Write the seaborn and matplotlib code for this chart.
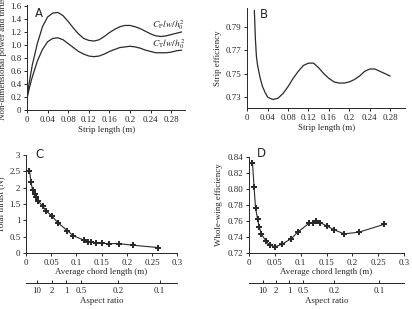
import numpy as np
import matplotlib
matplotlib.use('Agg')
import matplotlib.pyplot as plt
import seaborn as sns
import pandas as pd

# Panel A: non-dimensional power and thrust vs strip length
strip_a = [0, 0.005, 0.01, 0.02, 0.03, 0.04, 0.05, 0.06, 0.07, 0.08, 0.09, 0.10,
           0.11, 0.12, 0.13, 0.14, 0.15, 0.16, 0.17, 0.18, 0.19, 0.20, 0.21, 0.22,
           0.23, 0.24, 0.25, 0.26, 0.27, 0.28, 0.29, 0.30]
cp = [0.20, 0.45, 0.68, 1.02, 1.28, 1.43, 1.49, 1.50, 1.45, 1.36, 1.26, 1.17,
      1.10, 1.07, 1.06, 1.08, 1.13, 1.19, 1.24, 1.28, 1.30, 1.30, 1.28, 1.25,
      1.21, 1.17, 1.14, 1.13, 1.14, 1.16, 1.18, 1.20]
ct = [0.18, 0.35, 0.50, 0.75, 0.93, 1.05, 1.10, 1.11, 1.08, 1.02, 0.96, 0.90,
      0.86, 0.83, 0.82, 0.83, 0.86, 0.90, 0.93, 0.96, 0.97, 0.98, 0.97, 0.95,
      0.92, 0.90, 0.88, 0.88, 0.88, 0.89, 0.91, 0.92]

# Panel B: strip efficiency
strip_b = [0.014, 0.016, 0.018, 0.02, 0.025, 0.03, 0.035, 0.04, 0.05, 0.06, 0.07,
           0.08, 0.09, 0.10, 0.11, 0.12, 0.13, 0.14, 0.15, 0.16, 0.17, 0.18, 0.19,
           0.20, 0.21, 0.22, 0.23, 0.24, 0.25, 0.26, 0.27, 0.28]
strip_eff = [0.804, 0.780, 0.765, 0.758, 0.747, 0.739, 0.734, 0.730, 0.728, 0.729,
             0.733, 0.739, 0.746, 0.752, 0.757, 0.759, 0.759, 0.755, 0.750, 0.746,
             0.743, 0.742, 0.742, 0.743, 0.745, 0.748, 0.752, 0.754, 0.754, 0.752,
             0.750, 0.748]

# Panels C and D: whole wing vs average chord length
chord = [0.007, 0.010, 0.013, 0.017, 0.020, 0.024, 0.033, 0.040, 0.051, 0.064, 0.082,
         0.094, 0.116, 0.123, 0.130, 0.138, 0.150, 0.165, 0.184, 0.212, 0.262]
thrust = [2.52, 2.19, 1.93, 1.81, 1.71, 1.60, 1.44, 1.29, 1.14, 0.92, 0.69,
          0.53, 0.39, 0.35, 0.33, 0.31, 0.30, 0.29, 0.29, 0.24, 0.17]
wing_eff = [0.833, 0.803, 0.776, 0.762, 0.753, 0.744, 0.735, 0.730, 0.728, 0.731, 0.738,
            0.746, 0.757, 0.758, 0.760, 0.758, 0.754, 0.749, 0.744, 0.746, 0.756]

# aspect ratio scale under C and D
ar_labels = ['10', '2', '1', '0.5', '0.2', '0.1']
ar_chord_c = [0.022, 0.052, 0.080, 0.109, 0.183, 0.265]
ar_chord_d = [0.027, 0.052, 0.078, 0.105, 0.164, 0.251]

sns.set_style('ticks')
plt.rcParams['font.family'] = ['Liberation Serif', 'DejaVu Serif']
plt.rcParams['mathtext.fontset'] = 'stix'
plt.rcParams['font.size'] = 6.4
plt.rcParams['xtick.labelsize'] = 6.4
plt.rcParams['ytick.labelsize'] = 6.4
plt.rcParams['axes.linewidth'] = 0.7
plt.rcParams['xtick.major.size'] = 2
plt.rcParams['ytick.major.size'] = 2
plt.rcParams['xtick.major.width'] = 0.7
plt.rcParams['ytick.major.width'] = 0.7
plt.rcParams['xtick.major.pad'] = 2
plt.rcParams['ytick.major.pad'] = 2

fig = plt.figure(figsize=(4.12, 3.09), dpi=100)
axA = fig.add_axes([0.0655, 0.644, 0.384, 0.341])
axB = fig.add_axes([0.600, 0.650, 0.383, 0.324])
axC = fig.add_axes([0.063, 0.181, 0.367, 0.317])
axD = fig.add_axes([0.604, 0.181, 0.377, 0.311])

lw = 0.9
dfA = pd.DataFrame({'x': strip_a, 'cp': cp, 'ct': ct})
sns.lineplot(data=dfA, x='x', y='cp', ax=axA, color='#2a2a2a', lw=lw)
sns.lineplot(data=dfA, x='x', y='ct', ax=axA, color='#2a2a2a', lw=lw)
axA.set_xlim(0, 0.307)
axA.set_ylim(0, 1.62)
axA.set_xticks([0, 0.04, 0.08, 0.12, 0.16, 0.2, 0.24, 0.28])
axA.set_xticklabels(['0', '0.04', '0.08', '0.12', '0.16', '0.2', '0.24', '0.28'])
axA.set_yticks([0, 0.2, 0.4, 0.6, 0.8, 1.0, 1.2, 1.4, 1.6])
axA.set_yticklabels(['0', '0.2', '0.4', '0.6', '0.8', '1.0', '1.2', '1.4', '1.6'])
axA.set_xlabel('Strip length (m)', labelpad=2)
axA.set_ylabel('Non-dimensional power and thrust', labelpad=2)
axA.text(0.307, 1.31, r'$C_{\mathrm{P}}lw/h_0^2$', ha='right', va='center', fontsize=6.8)
axA.text(0.307, 1.02, r'$C_{\mathrm{T}}lw/h_0^2$', ha='right', va='center', fontsize=6.8)

dfB = pd.DataFrame({'x': strip_b, 'eff': strip_eff})
sns.lineplot(data=dfB, x='x', y='eff', ax=axB, color='#2a2a2a', lw=lw)
axB.set_xlim(0, 0.309)
axB.set_ylim(0.7206, 0.806)
axB.set_xticks([0, 0.04, 0.08, 0.12, 0.16, 0.2, 0.24, 0.28])
axB.set_xticklabels(['0', '0.04', '0.08', '0.12', '0.16', '0.2', '0.24', '0.28'])
axB.set_yticks([0.73, 0.75, 0.77, 0.79])
axB.set_yticklabels(['0.73', '0.75', '0.77', '0.79'])
axB.set_xlabel('Strip length (m)', labelpad=2)
axB.set_ylabel('Strip efficiency', labelpad=3)

dfCD = pd.DataFrame({'chord': chord, 'thrust': thrust, 'eff': wing_eff})
sns.lineplot(data=dfCD, x='chord', y='thrust', ax=axC, color='#2a2a2a', lw=0.8,
             marker='P', markersize=3.8, markeredgewidth=0, markerfacecolor='#2a2a2a')
axC.set_xlim(0, 0.3)
axC.set_ylim(0, 3)
axC.set_xticks([0, 0.05, 0.1, 0.15, 0.2, 0.25, 0.3])
axC.set_xticklabels(['0', '0.05', '0.1', '0.15', '0.2', '0.25', '0.3'])
axC.set_yticks([0, 0.5, 1, 1.5, 2, 2.5, 3])
axC.set_yticklabels(['0', '0.5', '1', '1.5', '2', '2.5', '3'])
axC.set_xlabel('Average chord length (m)', labelpad=1)
axC.set_ylabel('Total thrust (N)', labelpad=3)

sns.lineplot(data=dfCD, x='chord', y='eff', ax=axD, color='#2a2a2a', lw=0.8,
             marker='P', markersize=3.8, markeredgewidth=0, markerfacecolor='#2a2a2a')
axD.set_xlim(0, 0.3)
axD.set_ylim(0.72, 0.84)
axD.set_xticks([0, 0.05, 0.1, 0.15, 0.2, 0.25, 0.3])
axD.set_xticklabels(['0', '0.05', '0.1', '0.15', '0.2', '0.25', '0.3'])
axD.set_yticks([0.72, 0.74, 0.76, 0.78, 0.80, 0.82, 0.84])
axD.set_yticklabels(['0.72', '0.74', '0.76', '0.78', '0.80', '0.82', '0.84'])
axD.set_xlabel('Average chord length (m)', labelpad=1)
axD.set_ylabel('Whole-wing efficiency', labelpad=3)

for ax, pos in [(axC, ar_chord_c), (axD, ar_chord_d)]:
    ax2 = ax.twiny()
    ax2.set_xlim(ax.get_xlim())
    ax2.xaxis.set_ticks_position('bottom')
    ax2.xaxis.set_label_position('bottom')
    ax2.spines['bottom'].set_position(('outward', 21.6))
    for s in ['top', 'right', 'left']:
        ax2.spines[s].set_visible(False)
    ax2.set_xticks(pos)
    ax2.set_xticklabels(ar_labels)
    ax2.tick_params(axis='x', direction='in', length=2, pad=2.5)
    ax2.set_xlabel('Aspect ratio', labelpad=2)

for ax in [axA, axB, axC, axD]:
    sns.despine(ax=ax)
    ax.tick_params(direction='out')

for ax, letter, xy in [(axA, 'A', (0.05, 0.98)), (axB, 'B', (0.08, 1.0)),
                       (axC, 'C', (0.06, 1.07)), (axD, 'D', (0.05, 1.10))]:
    ax.text(xy[0], xy[1], letter, transform=ax.transAxes, ha='left', va='top',
            fontsize=8.5, family='DejaVu Sans')

fig.savefig('out.png', dpi=100)
